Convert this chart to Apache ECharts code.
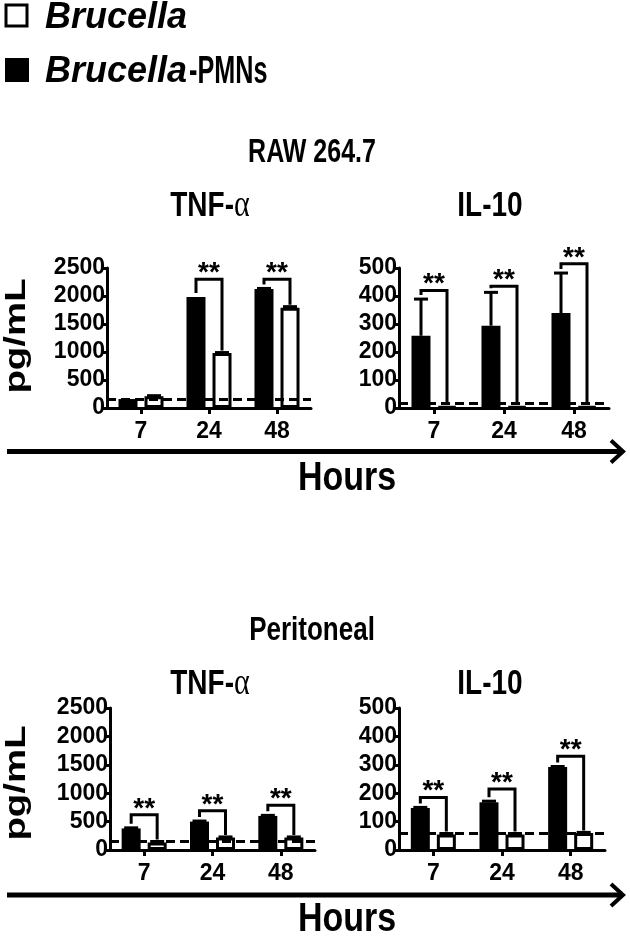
<!DOCTYPE html>
<html>
<head>
<meta charset="utf-8">
<script src="https://cdn.jsdelivr.net/npm/echarts@6/dist/echarts.min.js"></script>
<style>
html,body{margin:0;padding:0;background:#fff;}
#chart{width:630px;height:938px;}
</style>
</head>
<body>
<div id="chart"></div>
<script>
// ---------- DATA ----------
const hours = ['7', '24', '48'];
const legendNames = ['Brucella', 'Brucella-PMNs'];
const sectionTitles = ['RAW 264.7', 'Peritoneal'];
const cytokines = ['TNF-\u03b1', 'IL-10'];
const yUnit = 'pg/mL';
const xTitle = 'Hours';

// RAW 264.7 TNF-alpha
const rawTnfPMN = [160, 1980, 2125];
const rawTnfPMNErr = [0, 0, 10];
const rawTnfBru = [210, 980, 1790];
const rawTnfBruErr = [10, 10, 20];
const rawTnfBaseline = 150;
const rawTnfSig = [null, 2300, 2300];

// RAW 264.7 IL-10
const rawIlPMN = [258, 294, 339];
const rawIlPMNErr = [131, 119, 143];
const rawIlBru = [5, 5, 5];
const rawIlBruErr = [0, 0, 0];
const rawIlBaseline = 18;
const rawIlSig = [420, 435, 515];

// Peritoneal TNF-alpha
const perTnfPMN = [380, 500, 600];
const perTnfPMNErr = [10, 10, 10];
const perTnfBru = [130, 220, 220];
const perTnfBruErr = [20, 10, 10];
const perTnfBaseline = 150;
const perTnfSig = [620, 690, 790];

// Peritoneal IL-10
const perIlPMN = [148, 168, 292];
const perIlPMNErr = [2, 4, 2];
const perIlBru = [55, 55, 60];
const perIlBruErr = [3, 3, 2];
const perIlBaseline = 60;
const perIlSig = [185, 215, 330];

const tnfTicks = {max: 2500, interval: 500};
const ilTicks = {max: 500, interval: 100};

// ---------- BUILD ----------
const FONT = "'Liberation Sans', Arial, sans-serif";
const SERIF = "'Liberation Serif', 'Times New Roman', serif";
const BAR_W = 19;
const OFF = 13;

const panels = [
  {grid: {left: 107, top: 268, width: 204, height: 140}, ticks: tnfTicks, pmn: rawTnfPMN, pmnErr: rawTnfPMNErr, bru: rawTnfBru, bruErr: rawTnfBruErr, base: rawTnfBaseline, sig: rawTnfSig},
  {grid: {left: 399, top: 268, width: 210, height: 140}, ticks: ilTicks, pmn: rawIlPMN, pmnErr: rawIlPMNErr, bru: rawIlBru, bruErr: rawIlBruErr, base: rawIlBaseline, sig: rawIlSig},
  {grid: {left: 110, top: 708, width: 205, height: 142}, ticks: tnfTicks, pmn: perTnfPMN, pmnErr: perTnfPMNErr, bru: perTnfBru, bruErr: perTnfBruErr, base: perTnfBaseline, sig: perTnfSig},
  {grid: {left: 399, top: 708, width: 206, height: 142}, ticks: ilTicks, pmn: perIlPMN, pmnErr: perIlPMNErr, bru: perIlBru, bruErr: perIlBruErr, base: perIlBaseline, sig: perIlSig}
];

const grids = [], xAxes = [], yAxes = [], series = [];

function errRender(sign) {
  return function (params, api) {
    const cat = api.value(0), v = api.value(1), e = api.value(2);
    if (!e) return null;
    const p0 = api.coord([cat, v]);
    const p1 = api.coord([cat, v + e]);
    const x = p0[0] + sign * OFF;
    return {
      type: 'group',
      children: [
        {type: 'line', shape: {x1: x, y1: p0[1], x2: x, y2: p1[1]}, style: {stroke: '#000', lineWidth: 3}},
        {type: 'line', shape: {x1: x - 7, y1: p1[1], x2: x + 7, y2: p1[1]}, style: {stroke: '#000', lineWidth: 3}}
      ]
    };
  };
}

function sigRender(params, api) {
  const cat = api.value(0), top = api.value(1), lb = api.value(2), rb = api.value(3);
  const pt = api.coord([cat, top]);
  const pl = api.coord([cat, lb]);
  const pr = api.coord([cat, rb]);
  const xl = pt[0] - OFF, xr = pt[0] + OFF;
  return {
    type: 'group',
    children: [
      {type: 'polyline', shape: {points: [[xl, pl[1] - 4], [xl, pt[1]], [xr, pt[1]], [xr, pr[1] - 2]]},
        style: {stroke: '#000', lineWidth: 3, fill: null}},
      {type: 'text', x: (xl + xr) / 2, y: pt[1] - 6,
        style: {text: '**', fill: '#000', font: 'bold 28px ' + FONT, align: 'center', verticalAlign: 'middle'}}
    ]
  };
}

panels.forEach((p, i) => {
  grids.push(p.grid);
  xAxes.push({
    type: 'category', gridIndex: i, data: hours,
    axisLine: {lineStyle: {color: '#000', width: 3}},
    axisTick: {show: true, alignWithLabel: true, length: 6, lineStyle: {color: '#000', width: 3}},
    axisLabel: {color: '#000', fontFamily: FONT, fontWeight: 'bold', fontSize: 23, margin: 12},
    splitLine: {show: false}
  });
  yAxes.push({
    type: 'value', gridIndex: i, min: 0, max: p.ticks.max, interval: p.ticks.interval,
    axisLine: {show: true, lineStyle: {color: '#000', width: 3}},
    axisTick: {show: true, length: 6, lineStyle: {color: '#000', width: 3}},
    axisLabel: {color: '#000', fontFamily: FONT, fontWeight: 'bold', fontSize: 23, margin: 2,
      formatter: v => String(v)},
    splitLine: {show: false}
  });
  series.push({
    type: 'bar', name: legendNames[1], xAxisIndex: i, yAxisIndex: i,
    data: p.pmn, barWidth: BAR_W, barGap: '37%',
    itemStyle: {color: '#000'},
    silent: true,
    markLine: {
      silent: true, symbol: 'none', label: {show: false},
      lineStyle: {color: '#000', width: 3, type: [9, 5]},
      data: [{yAxis: p.base}]
    }
  });
  series.push({
    type: 'bar', name: legendNames[0], xAxisIndex: i, yAxisIndex: i,
    data: p.bru, barWidth: BAR_W,
    itemStyle: {color: '#fff', borderColor: '#000', borderWidth: 3},
    silent: true
  });
  series.push({
    type: 'custom', xAxisIndex: i, yAxisIndex: i, clip: false, silent: true,
    renderItem: errRender(-1),
    data: p.pmn.map((v, k) => [k, v, p.pmnErr[k]])
  });
  series.push({
    type: 'custom', xAxisIndex: i, yAxisIndex: i, clip: false, silent: true,
    renderItem: errRender(1),
    data: p.bru.map((v, k) => [k, v, p.bruErr[k]])
  });
  series.push({
    type: 'custom', xAxisIndex: i, yAxisIndex: i, clip: false, silent: true,
    renderItem: sigRender,
    data: p.sig.map((s, k) => s == null ? null : [k, s, p.pmn[k] + p.pmnErr[k], p.bru[k] + p.bruErr[k]]).filter(d => d)
  });
});

function txt(x, y, text, size, extra) {
  return Object.assign({
    type: 'text', x: x, y: y, silent: true,
    style: {text: text, fill: '#000', font: 'bold ' + size + 'px ' + FONT, align: 'center', verticalAlign: 'middle'}
  }, extra || {});
}

function cytoTitle(x, y, name) {
  const parts = name.split('\u03b1');
  const text = parts.length > 1 ? parts[0] + '{a|\u03b1}' : name;
  return {
    type: 'text', x: x, y: y, silent: true, scaleY: 1.25,
    style: {text: text, fill: '#000', font: 'bold 28px ' + FONT, align: 'center', verticalAlign: 'middle',
      rich: {a: {fill: '#000', fontFamily: SERIF, fontWeight: 'normal', fontSize: 30}}}
  };
}

function arrow(y) {
  return [
    {type: 'line', silent: true, shape: {x1: 7, y1: y, x2: 622, y2: y}, style: {stroke: '#000', lineWidth: 5}},
    {type: 'polyline', silent: true, shape: {points: [[611, y - 11], [623, y], [611, y + 11]]}, style: {stroke: '#000', lineWidth: 4, fill: null}}
  ];
}

const pmnParts = legendNames[1].split('-');

const graphics = [
  // legend
  {type: 'rect', silent: true, shape: {x: 6, y: 5, width: 21, height: 21}, style: {fill: '#fff', stroke: '#000', lineWidth: 3}},
  {type: 'text', x: 45, y: 18, silent: true, scaleY: 1.05,
    style: {text: legendNames[0], fill: '#000', font: 'italic bold 36px ' + FONT, align: 'left', verticalAlign: 'middle'}},
  {type: 'rect', silent: true, shape: {x: 5, y: 58, width: 24, height: 24}, style: {fill: '#000'}},
  {type: 'text', x: 45, y: 72, silent: true, scaleY: 1.05,
    style: {text: pmnParts[0], fill: '#000', font: 'italic bold 36px ' + FONT, align: 'left', verticalAlign: 'middle'}},
  {type: 'text', x: 189, y: 72, silent: true, scaleX: 0.72, scaleY: 1.1,
    style: {text: '-' + pmnParts[1], fill: '#000', font: 'bold 35px ' + FONT, align: 'left', verticalAlign: 'middle'}},
  // titles
  txt(312, 153, sectionTitles[0], 25, {scaleY: 1.35}),
  cytoTitle(210, 206, cytokines[0]),
  txt(490, 206, cytokines[1], 28, {scaleY: 1.25}),
  txt(312, 631, sectionTitles[1], 26, {scaleY: 1.3}),
  cytoTitle(210, 684, cytokines[0]),
  txt(490, 684, cytokines[1], 28, {scaleY: 1.25}),
  // y units
  txt(17, 336, yUnit, 30, {rotation: Math.PI / 2, scaleX: 1.28}),
  txt(17, 783, yUnit, 30, {rotation: Math.PI / 2, scaleX: 1.28}),
  // hours
  txt(347, 479, xTitle, 34, {scaleY: 1.2}),
  txt(347, 920, xTitle, 34, {scaleY: 1.2})
].concat(arrow(451.5), arrow(895));

const chart = echarts.init(document.getElementById('chart'), null, {renderer: 'canvas'});
chart.setOption({
  animation: false,
  backgroundColor: '#fff',
  grid: grids,
  xAxis: xAxes,
  yAxis: yAxes,
  series: series,
  graphic: graphics
});
</script>
</body>
</html>
